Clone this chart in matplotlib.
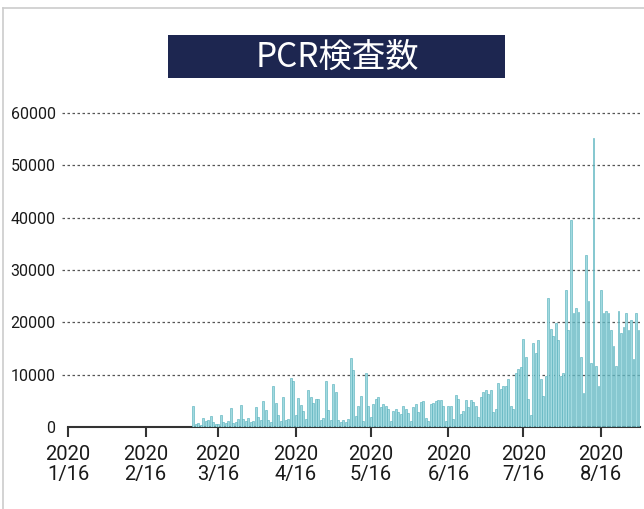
import matplotlib
matplotlib.use("Agg")
import matplotlib.pyplot as plt
import matplotlib.dates as mdates
from matplotlib.patches import Rectangle
from matplotlib.lines import Line2D
import pandas as pd

title = "PCR検査数"
start_date = "2020-03-06"
tests = [
    4100, 600, 800, 400, 1700, 1200, 1400, 2100, 1000, 600,
    500, 2300, 900, 700, 1200, 3600, 800, 1000, 1500, 4200,
    1500, 1200, 1800, 900, 1100, 3900, 2000, 1300, 4900, 3300,
    1400, 900, 7800, 4500, 2300, 1200, 5700, 1400, 1500, 9300,
    8700, 2200, 5500, 4200, 3000, 1500, 7100, 5700, 4500, 5300,
    5300, 1400, 1800, 8700, 3200, 1400, 8300, 6700, 1300, 900,
    1300, 1000, 1500, 13200, 10900, 2100, 4100, 6000, 1200, 10300,
    4100, 2000, 4400, 5400, 5800, 3800, 4400, 4100, 3400, 1200,
    3100, 3400, 2800, 2500, 4100, 3400, 2600, 1200, 3800, 4400,
    2900, 4700, 4900, 1800, 1200, 4400, 4500, 4900, 5100, 5200,
    4100, 1200, 4100, 4100, 1500, 6200, 5400, 2500, 3100, 5100,
    3800, 5200, 4700, 4100, 1900, 5700, 6600, 7000, 6300, 7000,
    2800, 3500, 8400, 7300, 7800, 7900, 9200, 4100, 3500, 10400,
    11100, 11400, 16800, 13300, 5400, 2200, 16100, 14200, 16600, 9200,
    6000, 9800, 24700, 18700, 17400, 19900, 16700, 9700, 10300, 26200,
    18600, 39500, 21800, 22700, 22000, 13400, 6500, 32800, 24000, 12300,
    55200, 11600, 7800, 26200, 21800, 22100, 21800, 18600, 15400, 11600,
    22100, 17900, 19200, 21800, 18600, 20500, 12900, 21800, 18600,
]
tick_dates = ["2020-01-16", "2020-02-16", "2020-03-16", "2020-04-16",
              "2020-05-16", "2020-06-16", "2020-07-16", "2020-08-16"]
tick_labels = ["2020\n1/16", "2020\n2/16", "2020\n3/16", "2020\n4/16",
               "2020\n5/16", "2020\n6/16", "2020\n7/16", "2020\n8/16"]
y_ticks = [0, 10000, 20000, 30000, 40000, 50000, 60000]

dates = pd.date_range(start_date, periods=len(tests), freq="D")

fig = plt.figure(figsize=(6.44, 5.09), dpi=100)
ax = fig.add_axes([68/644, 1-427/509, (640-68)/644, (427-113)/509])

ax.bar(dates, tests, width=0.75, color="#a2dae0", edgecolor="#4eadb9",
       linewidth=0.4, zorder=3)

x0 = mdates.date2num(pd.Timestamp("2020-01-16"))
ax.set_xlim(x0, x0 + 228.6)
ax.set_ylim(0, 60000)

for y in y_ticks[1:]:
    ax.axhline(y, xmin=-0.01, xmax=1.0, clip_on=False, color="#555555",
               linestyle=(0, (2.0, 2.0)), linewidth=0.9, zorder=1)

ax.set_xticks([mdates.date2num(pd.Timestamp(d)) for d in tick_dates])
ax.set_xticklabels(tick_labels, fontsize=14.5, family="Roboto",
                   color="#1a1a1a", linespacing=1.05)
ax.set_yticks(y_ticks)
ax.set_yticklabels([str(v) for v in y_ticks], fontsize=11.5,
                   family="Roboto", color="#1a1a1a")
ax.tick_params(axis="y", length=0, pad=9)
ax.tick_params(axis="x", length=7, width=1.5, color="#333333", pad=6)

for s in ["top", "right", "left"]:
    ax.spines[s].set_visible(False)
ax.spines["bottom"].set_color("#333333")
ax.spines["bottom"].set_linewidth(1.5)

# title box
fig.patches.append(Rectangle((168/644, 1-78/509), (505-168)/644, 43/509,
                             transform=fig.transFigure, facecolor="#1d2650",
                             edgecolor="none"))
fig.text(337/644, 1-57/509, title, color="white", fontsize=24,
         ha="center", va="center",
         family=["Noto Sans CJK JP", "DejaVu Sans"])

# light frame around the figure
fig.lines.append(Line2D([3/644, 3/644], [0, 1-8/509], transform=fig.transFigure,
                        color="#cccccc", linewidth=1.2))
fig.lines.append(Line2D([3/644, 1], [1-8/509, 1-8/509], transform=fig.transFigure,
                        color="#cccccc", linewidth=1.2))

fig.savefig("out.png", dpi=100)
